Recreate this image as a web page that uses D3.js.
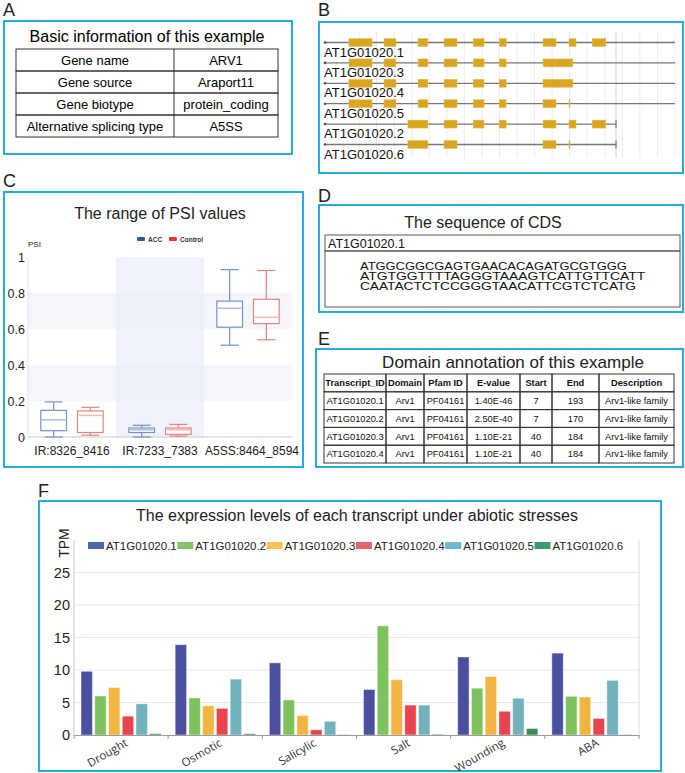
<!DOCTYPE html>
<html>
<head>
<meta charset="utf-8">
<script src="https://cdn.jsdelivr.net/npm/d3@7"></script>
<style>
  body { margin: 0; background: #fff; }
  svg { display: block; font-family: "Liberation Sans", Arial, sans-serif; }
</style>
</head>
<body>
<svg id="fig"></svg>
<script>
// ---- data ----
const infoLabels = ["Gene name", "Gene source", "Gene biotype", "Alternative splicing type"]
const infoValues = ["ARV1", "Araport11", "protein_coding", "A5SS"]

const transcripts = ["AT1G01020.1", "AT1G01020.3", "AT1G01020.4", "AT1G01020.5", "AT1G01020.2", "AT1G01020.6"]
const transcriptEnds = [1000, 1000, 1000, 1000, 832, 832]
const transcriptExons = [
    [[71, 137], [171, 205], [268, 296], [342, 379], [425, 456], [499, 519], [624, 661], [698, 718], [764, 803]],
    [[71, 137], [171, 205], [268, 296], [342, 379], [425, 456], [499, 519], [624, 709]],
    [[71, 137], [171, 205], [268, 296], [342, 379], [425, 456], [499, 519], [624, 709]],
    [[71, 137], [171, 205], [268, 296], [342, 379], [425, 456], [499, 519], [624, 661], [698, 700]],
    [[239, 296], [342, 379], [425, 456], [499, 519], [624, 661], [698, 718], [764, 803]],
    [[239, 296], [342, 379], [624, 661], [698, 700]]
]

const psiEvents = ["IR:8326_8416", "IR:7233_7383", "A5SS:8464_8594"]
const psiGroups = ["ACC", "Control"]
// [min, q1, median, q3, max]
const psiAcc = [[0, 0.035, 0.095, 0.148, 0.195], [0, 0.025, 0.04, 0.05, 0.065], [0.51, 0.61, 0.715, 0.755, 0.93]]
const psiControl = [[0.01, 0.025, 0.12, 0.145, 0.165], [0.005, 0.015, 0.04, 0.05, 0.07], [0.54, 0.63, 0.665, 0.765, 0.925]]
const psiTicks = [0, 0.2, 0.4, 0.6, 0.8, 1]

const cdsId = "AT1G01020.1"
const cdsLines = ["ATGGCGGCGAGTGAACACAGATGCGTGGG", "ATGTGGTTTTAGGGTAAAGTCATTGTTCATT", "CAATACTCTCCGGGTAACATTCGTCTCATG"]

const domainHeader = ["Transcript_ID", "Domain", "Pfam ID", "E-value", "Start", "End", "Description"]
const domainRows = [
    ["AT1G01020.1", "Arv1", "PF04161", "1.40E-46", "7", "193", "Arv1-like family"],
    ["AT1G01020.2", "Arv1", "PF04161", "2.50E-40", "7", "170", "Arv1-like family"],
    ["AT1G01020.3", "Arv1", "PF04161", "1.10E-21", "40", "184", "Arv1-like family"],
    ["AT1G01020.4", "Arv1", "PF04161", "1.10E-21", "40", "184", "Arv1-like family"]
]

const stresses = ["Drought", "Osmotic", "Salicylic", "Salt", "Wounding", "ABA"]
const exprSeries = ["AT1G01020.1", "AT1G01020.2", "AT1G01020.3", "AT1G01020.4", "AT1G01020.5", "AT1G01020.6"]
const tpm1 = [9.8, 13.9, 11.1, 7.0, 12.0, 12.6]
const tpm2 = [6.0, 5.7, 5.4, 16.8, 7.2, 5.95]
const tpm3 = [7.3, 4.5, 3.0, 8.5, 9.0, 5.85]
const tpm4 = [2.9, 4.1, 0.8, 4.6, 3.65, 2.55]
const tpm5 = [4.8, 8.6, 2.1, 4.6, 5.65, 8.4]
const tpm6 = [0.2, 0.2, 0.05, 0.1, 1.0, 0.05]
const tpmTicks = [0, 5, 10, 15, 20, 25]

const barColors = ["#4a4f9f", "#7dc25c", "#f2b544", "#e9434f", "#72b2bc", "#3d8c5a"]
const legendColors = ["#4b68b4", "#86c46a", "#f4c256", "#e6636b", "#70b7d4", "#3c9a6c"]
const frameColor = "#2aa8e0"

// ---- figure ----
const W = 685, H = 773
const svg = d3.select("#fig").attr("width", W).attr("height", H)

const panel = (letter, lx, ly, box) => {
    svg.append("text").attr("x", lx).attr("y", ly).attr("font-size", 18).attr("fill", "#222").text(letter)
    svg.append("rect")
        .attr("x", box[0]).attr("y", box[1]).attr("width", box[2] - box[0]).attr("height", box[3] - box[1])
        .attr("fill", "none").attr("stroke", frameColor).attr("stroke-width", 2)
}

panel("A", 3, 16, [4, 21, 292, 154])
panel("B", 318, 16, [319, 22, 683, 173])
panel("C", 3, 187, [4, 192, 303, 467])
panel("D", 318, 202, [319, 205, 683, 312])
panel("E", 318, 345, [316, 349, 683, 467])
panel("F", 38, 497, [39, 501, 661, 771])

// ---- A: info table ----
const gA = svg.append("g")
gA.append("text").attr("x", 147).attr("y", 42).attr("text-anchor", "middle").attr("font-size", 16).text("Basic information of this example")
const aRow = d3.scaleBand().domain(d3.range(infoLabels.length)).range([49, 137])
const aCols = [16, 174, 278]
infoLabels.forEach((lab, i) => {
    gA.append("rect").attr("x", aCols[0]).attr("y", aRow(i)).attr("width", aCols[2] - aCols[0]).attr("height", aRow.bandwidth())
        .attr("fill", "none").attr("stroke", "#333").attr("stroke-width", 1)
    gA.append("text").attr("x", (aCols[0] + aCols[1]) / 2).attr("y", aRow(i) + 16).attr("text-anchor", "middle").attr("font-size", 13).text(lab)
    gA.append("text").attr("x", (aCols[1] + aCols[2]) / 2).attr("y", aRow(i) + 16).attr("text-anchor", "middle").attr("font-size", 13).text(infoValues[i])
})
gA.append("line").attr("x1", aCols[1]).attr("x2", aCols[1]).attr("y1", 49).attr("y2", 137).attr("stroke", "#333")

// ---- B: gene structure ----
const gB = svg.append("g")
const bx = d3.scaleLinear().domain([0, 1000]).range([324, 675])
const by = d3.scalePoint().domain(transcripts).range([42.5, 144.5])
gB.selectAll(".grid").data(d3.range(100, 1001, 50)).enter().append("line")
    .attr("x1", d => bx(d)).attr("x2", d => bx(d)).attr("y1", 32).attr("y2", 158)
    .attr("stroke", "#ececec").attr("stroke-width", 1)
gB.append("line").attr("x1", bx(832)).attr("x2", bx(832)).attr("y1", 32).attr("y2", 158).attr("stroke", "#d0d0d0")
transcripts.forEach((t, i) => {
    const y = by(t)
    const g = gB.append("g")
    g.append("line").attr("x1", bx(0)).attr("x2", bx(transcriptEnds[i])).attr("y1", y).attr("y2", y)
        .attr("stroke", "#777").attr("stroke-width", 1.3)
    g.append("circle").attr("cx", bx(0) + 1).attr("cy", y).attr("r", 1.3).attr("fill", "#555")
    if (transcriptEnds[i] < 1000) {
        g.append("line").attr("x1", bx(transcriptEnds[i])).attr("x2", bx(transcriptEnds[i])).attr("y1", y - 4).attr("y2", y + 4)
            .attr("stroke", "#777").attr("stroke-width", 1.2)
    }
    g.selectAll("rect").data(transcriptExons[i]).enter().append("rect")
        .attr("x", d => bx(d[0])).attr("y", y - 4)
        .attr("width", d => Math.max(1, bx(d[1]) - bx(d[0]))).attr("height", 8)
        .attr("fill", "#daa520").attr("stroke", "#e8c060").attr("stroke-width", 0.5)
    g.append("text").attr("x", 324).attr("y", y + 14).attr("font-size", 13).attr("fill", "#111").text(t)
})

// ---- C: PSI boxplot ----
const gC = svg.append("g")
gC.append("text").attr("x", 160).attr("y", 219).attr("text-anchor", "middle").attr("font-size", 16).attr("fill", "#222").text("The range of PSI values")
const cx = d3.scaleBand().domain(psiEvents).range([28, 292])
const cy = d3.scaleLinear().domain([0, 1]).range([437, 257])
const cg = d3.scaleBand().domain(psiGroups).range([0, cx.bandwidth()]).paddingInner(0.3).paddingOuter(0.35)
;[[0.2, 0.4], [0.6, 0.8]].forEach(b => {
    gC.append("rect").attr("x", 28).attr("width", 264).attr("y", cy(b[1])).attr("height", cy(b[0]) - cy(b[1])).attr("fill", "#f4f6fb")
})
gC.append("rect").attr("x", cx(psiEvents[1])).attr("width", cx.bandwidth()).attr("y", cy(1)).attr("height", cy(0) - cy(1))
    .attr("fill", "#e9ecf7").attr("opacity", 0.65)
gC.append("line").attr("x1", 28).attr("x2", 28).attr("y1", cy(1)).attr("y2", cy(0)).attr("stroke", "#e2e4ea")
gC.append("line").attr("x1", 28).attr("x2", 292).attr("y1", cy(0)).attr("y2", cy(0)).attr("stroke", "#c8c8c8")
gC.selectAll(".yt").data(psiTicks).enter().append("text")
    .attr("x", 25).attr("y", d => cy(d) + 4.5).attr("text-anchor", "end").attr("font-size", 12.5).attr("fill", "#222")
    .text(d => d3.format("~g")(d))
gC.append("text").attr("x", 28).attr("y", 247).attr("font-size", 8).attr("fill", "#222").text("PSI")
gC.selectAll(".xt").data(psiEvents).enter().append("text")
    .attr("x", (d, i) => cx(d) + cx.bandwidth() / 2 + (i === 2 ? 4 : 0)).attr("y", 455)
    .attr("text-anchor", "middle").attr("font-size", 12).attr("fill", "#222").text(d => d)
const groupStyle = { ACC: { stroke: "#7392c4", median: "#aabfe0", legend: "#2f5aa8" }, Control: { stroke: "#e0857c", median: "#f0b8b0", legend: "#e03b3b" } }
;[psiAcc, psiControl].forEach((vals, gi) => {
    const grp = psiGroups[gi]
    const st = groupStyle[grp]
    psiEvents.forEach((ev, ei) => {
        const s = vals[ei]
        const x0 = cx(ev) + cg(grp)
        const w = cg.bandwidth()
        const xm = x0 + w / 2
        const g = gC.append("g").attr("fill", "none").attr("stroke", st.stroke).attr("stroke-width", 1.2)
        g.append("line").attr("x1", xm).attr("x2", xm).attr("y1", cy(s[0])).attr("y2", cy(s[1]))
        g.append("line").attr("x1", xm).attr("x2", xm).attr("y1", cy(s[3])).attr("y2", cy(s[4]))
        g.append("line").attr("x1", xm - w * 0.35).attr("x2", xm + w * 0.35).attr("y1", cy(s[0])).attr("y2", cy(s[0]))
        g.append("line").attr("x1", xm - w * 0.35).attr("x2", xm + w * 0.35).attr("y1", cy(s[4])).attr("y2", cy(s[4]))
        g.append("rect").attr("x", x0).attr("y", cy(s[3])).attr("width", w).attr("height", cy(s[1]) - cy(s[3])).attr("fill", "#fff")
        g.append("line").attr("x1", x0 + 1).attr("x2", x0 + w - 1).attr("y1", cy(s[2])).attr("y2", cy(s[2])).attr("stroke", st.median).attr("stroke-width", 1.5)
    })
})
const cLeg = gC.append("g").attr("font-size", 6.5).attr("font-weight", "bold").attr("fill", "#333")
psiGroups.forEach((grp, i) => {
    const lx = [137, 169][i]
    cLeg.append("rect").attr("x", lx).attr("y", 237).attr("width", 8).attr("height", 4).attr("rx", 1).attr("fill", groupStyle[grp].legend)
    cLeg.append("text").attr("x", lx + 11).attr("y", 241.5).text(grp)
})

// ---- D: CDS ----
const gD = svg.append("g")
gD.append("text").attr("x", 483).attr("y", 228).attr("text-anchor", "middle").attr("font-size", 16).attr("fill", "#222").text("The sequence of CDS")
gD.append("rect").attr("x", 325).attr("y", 235).attr("width", 355).attr("height", 16).attr("fill", "none").attr("stroke", "#555")
gD.append("rect").attr("x", 325).attr("y", 251).attr("width", 355).attr("height", 56).attr("fill", "none").attr("stroke", "#555")
gD.append("text").attr("x", 328).attr("y", 248).attr("font-size", 12.5).attr("fill", "#111").text(cdsId)
gD.selectAll(".seq").data(cdsLines).enter().append("text")
    .attr("x", 360).attr("y", (d, i) => 270 + i * 10).attr("font-size", 10.5).attr("fill", "#111")
    .attr("textLength", d => d.length * 9.2).attr("lengthAdjust", "spacingAndGlyphs").text(d => d)

// ---- E: domain table ----
const gE = svg.append("g")
gE.append("text").attr("x", 513).attr("y", 368).attr("text-anchor", "middle").attr("font-size", 17).attr("fill", "#222").text("Domain annotation of this example")
const eCols = [324, 386, 424, 467, 520, 552, 599, 674]
const eRows = d3.scaleBand().domain(d3.range(domainRows.length + 1)).range([374, 463])
const allRows = [domainHeader].concat(domainRows)
allRows.forEach((row, r) => {
    row.forEach((cell, c) => {
        gE.append("rect").attr("x", eCols[c]).attr("y", eRows(r)).attr("width", eCols[c + 1] - eCols[c]).attr("height", eRows.bandwidth())
            .attr("fill", "none").attr("stroke", "#333").attr("stroke-width", 1)
        gE.append("text").attr("x", (eCols[c] + eCols[c + 1]) / 2).attr("y", eRows(r) + eRows.bandwidth() / 2 + 3.3)
            .attr("text-anchor", "middle").attr("font-size", 9.3).attr("font-weight", r === 0 ? "bold" : "normal").attr("fill", "#111").text(cell)
    })
})

// ---- F: expression bar chart ----
const gF = svg.append("g")
gF.append("text").attr("x", 357).attr("y", 521).attr("text-anchor", "middle").attr("font-size", 16).attr("fill", "#222")
    .text("The expression levels of each transcript under abiotic stresses")
const tpmSeries = [tpm1, tpm2, tpm3, tpm4, tpm5, tpm6]
const fx = d3.scaleBand().domain(stresses).range([74, 639])
const fx1 = d3.scaleBand().domain(exprSeries).range([7, fx.bandwidth() - 7]).paddingInner(0.17)
const fy = d3.scaleLinear().domain([0, 30]).range([735, 540])
gF.selectAll(".grid").data(tpmTicks.slice(1)).enter().append("line")
    .attr("x1", 74).attr("x2", 639).attr("y1", d => fy(d)).attr("y2", d => fy(d)).attr("stroke", "#e8e8e8")
gF.append("line").attr("x1", 74).attr("x2", 74).attr("y1", fy(30)).attr("y2", fy(0)).attr("stroke", "#c8c8c8")
gF.append("line").attr("x1", 639).attr("x2", 639).attr("y1", fy(30)).attr("y2", fy(0)).attr("stroke", "#dcdcdc")
gF.selectAll(".yt").data(tpmTicks).enter().append("text")
    .attr("x", 70).attr("y", d => fy(d) + 5).attr("text-anchor", "end").attr("font-size", 14.5).attr("fill", "#222").text(d => d)
gF.append("text").attr("transform", "translate(69,543) rotate(-90)").attr("text-anchor", "middle").attr("font-size", 14).attr("fill", "#222").text("TPM")

exprSeries.forEach((s, si) => {
    gF.append("g").attr("fill", barColors[si]).attr("stroke", "rgba(255,255,255,0.45)").attr("stroke-width", 1)
        .selectAll("rect").data(tpmSeries[si]).enter().append("rect")
        .attr("x", (d, i) => fx(stresses[i]) + fx1(s))
        .attr("y", d => fy(d))
        .attr("width", fx1.bandwidth())
        .attr("height", d => fy(0) - fy(d))
})

const xAxisF = d3.axisBottom(fx).tickSize(0).tickFormat("")
gF.append("g").attr("transform", `translate(0,${fy(0)})`).call(xAxisF)
    .call(g => g.select(".domain").attr("stroke", "#9a9a9a"))
gF.selectAll(".xtick").data(d3.range(stresses.length + 1)).enter().append("line")
    .attr("x1", i => 74 + i * fx.step()).attr("x2", i => 74 + i * fx.step())
    .attr("y1", fy(0)).attr("y2", fy(0) + 4).attr("stroke", "#9a9a9a")
gF.selectAll(".xl").data(stresses).enter().append("text")
    .attr("transform", d => `translate(${fx(d) + fx.bandwidth() / 2 + 4},${fy(0) + 4}) rotate(-30)`)
    .attr("text-anchor", "end").attr("dy", "0.62em").attr("font-size", 11.5).attr("font-family", "'Open Sans', sans-serif").attr("fill", "#333")
    .text(d => d)

const fLeg = gF.append("g")
exprSeries.forEach((s, i) => {
    const lx = 88 + i * 89.3
    fLeg.append("rect").attr("x", lx).attr("y", 542).attr("width", 16).attr("height", 7).attr("fill", legendColors[i])
    fLeg.append("text").attr("x", lx + 18).attr("y", 549.5).attr("font-size", 11.5).attr("fill", "#222").text(s)
})
</script>
</body>
</html>
